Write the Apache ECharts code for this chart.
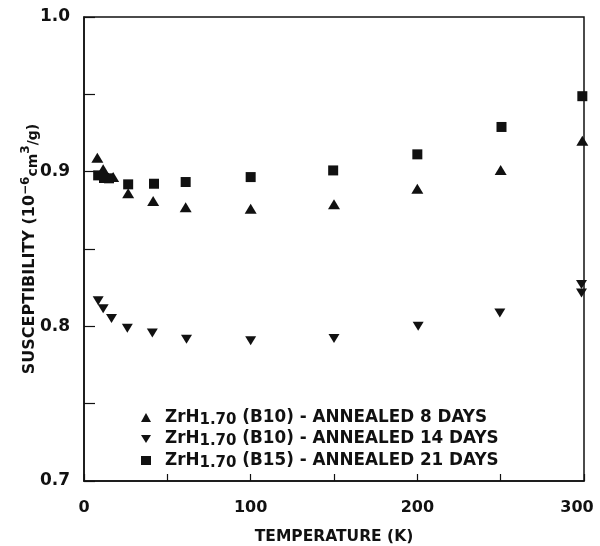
<!DOCTYPE html>
<html>
<head>
<meta charset="utf-8">
<script src="https://cdn.jsdelivr.net/npm/echarts@6/dist/echarts.min.js"></script>
<style>
  html, body { margin: 0; padding: 0; background: #fff; }
  #chart { width: 600px; height: 546px; }
</style>
</head>
<body>
<div id="chart"></div>
<script>
// Magnetic susceptibility of ZrH1.70 versus temperature, three anneal times
const seriesNames = [
  'ZrH1.70 (B10) - ANNEALED 8 DAYS',
  'ZrH1.70 (B10) - ANNEALED 14 DAYS',
  'ZrH1.70 (B15) - ANNEALED 21 DAYS'
];

// B10, annealed 8 days
const temp8 = [8, 11.5, 17.5, 26.5, 41.5, 61, 100, 150, 200, 250, 299];
const chi8  = [0.909, 0.9015, 0.8965, 0.886, 0.881, 0.877, 0.876, 0.879, 0.889, 0.901, 0.920];

// B10, annealed 14 days
const temp14 = [8.5, 11.5, 16.5, 26, 41, 61.5, 100, 150, 200.5, 249.5, 298.5, 298.5];
const chi14  = [0.8166, 0.8114, 0.805, 0.7988, 0.7957, 0.7916, 0.7907, 0.7922, 0.800, 0.8086, 0.827, 0.8216];

// B15, annealed 21 days
const temp21 = [8.5, 12, 15, 26.5, 42, 61, 100, 149.5, 200, 250.5, 299];
const chi21  = [0.8976, 0.8959, 0.8957, 0.8918, 0.8922, 0.8933, 0.8965, 0.9008, 0.9112, 0.9289, 0.9488];

// Labelled ticks
const xTickLabels = [0, 100, 200, 300];
const yTickLabels = [0.7, 0.8, 0.9, 1.0];

const FONT = 'DejaVu Sans';
const INK = '#111';

// Downward triangle used as the legend icon of the 14-day series
const DOWN_TRIANGLE = 'path://M0,0 L10,0 L5,8 Z';

function pairs(xs, ys) {
  return xs.map((x, i) => [x, ys[i]]);
}

const chart = echarts.init(document.getElementById('chart'), null, { renderer: 'canvas' });

chart.setOption({
  backgroundColor: '#fff',
  animation: false,
  grid: {
    left: 84, right: 16, top: 17, bottom: 65,
    outerBoundsMode: 'none', containLabel: false,
    show: true, borderColor: INK, borderWidth: 1.5, backgroundColor: 'transparent'
  },
  xAxis: {
    type: 'value', min: 0, max: 300, interval: 50,
    name: 'TEMPERATURE (K)', nameLocation: 'middle', nameGap: 48, nameMoveOverlap: false,
    nameTextStyle: { fontFamily: FONT, fontWeight: 'bold', fontSize: 15.5, color: INK },
    axisLine: { show: true, lineStyle: { color: INK, width: 1.5 } },
    axisTick: { show: true, inside: true, length: 7, lineStyle: { color: INK, width: 1.2 } },
    splitLine: { show: false },
    axisLabel: {
      margin: 19, fontFamily: FONT, fontWeight: 'bold', fontSize: 16, color: INK,
      // the last label sits a little inward from the right edge
      formatter: v => {
        if (!xTickLabels.includes(v)) return '';
        return v === xTickLabels[xTickLabels.length - 1] ? '{r|' + v + '}' : String(v);
      },
      rich: {
        r: { fontFamily: FONT, fontWeight: 'bold', fontSize: 16, color: INK, padding: [0, 14, 0, 0] }
      }
    }
  },
  yAxis: {
    type: 'value', min: 0.7, max: 1.0, interval: 0.05,
    name: '{a|SUSCEPTIBILITY (10}{p|−6}{c|cm}{p|3}{c|/g)}',
    nameLocation: 'middle', nameRotate: 90, nameGap: 44, nameMoveOverlap: false,
    nameTextStyle: {
      color: INK,
      rich: {
        a: { fontFamily: FONT, fontWeight: 'bold', fontSize: 16, lineHeight: 20, color: INK },
        p: { fontFamily: FONT, fontWeight: 'bold', fontSize: 12, lineHeight: 4, verticalAlign: 'top', color: INK },
        c: { fontFamily: FONT, fontWeight: 'bold', fontSize: 14, lineHeight: 18, verticalAlign: 'bottom', color: INK }
      }
    },
    axisLine: { show: true, lineStyle: { color: INK, width: 1.5 } },
    axisTick: { show: true, inside: true, length: 11, lineStyle: { color: INK, width: 1.2 } },
    splitLine: { show: false },
    axisLabel: {
      margin: 14, fontFamily: FONT, fontWeight: 'bold', fontSize: 17, color: INK,
      formatter: v => {
        const r = Math.round(v * 10) / 10;
        return (Math.abs(v - r) < 1e-6 && yTickLabels.some(t => Math.abs(t - r) < 1e-6)) ? r.toFixed(1) : '';
      }
    }
  },
  legend: {
    orient: 'vertical', left: 136, top: 404,
    itemWidth: 10, itemHeight: 9, itemGap: 3,
    data: [
      { name: seriesNames[0], icon: 'triangle' },
      { name: seriesNames[1], icon: DOWN_TRIANGLE },
      { name: seriesNames[2], icon: 'rect' }
    ],
    itemStyle: { opacity: 1 },
    formatter: name => name.replace(/^ZrH1\.70 (.*)$/, '{m|ZrH}{s|1.70}{m| $1}'),
    textStyle: {
      padding: [0, 0, 0, 9],
      rich: {
        m: { fontFamily: FONT, fontWeight: 'bold', fontSize: 16.8, lineHeight: 20, color: INK },
        s: { fontFamily: FONT, fontWeight: 'bold', fontSize: 15, lineHeight: 4, verticalAlign: 'bottom', color: INK }
      }
    }
  },
  series: [
    {
      name: seriesNames[0], type: 'scatter', symbol: 'triangle', symbolSize: [12, 10],
      itemStyle: { color: INK, opacity: 1 }, data: pairs(temp8, chi8)
    },
    {
      name: seriesNames[1], type: 'scatter', symbol: 'triangle', symbolRotate: 180, symbolSize: [11, 9],
      itemStyle: { color: INK, opacity: 1 }, data: pairs(temp14, chi14)
    },
    {
      name: seriesNames[2], type: 'scatter', symbol: 'rect', symbolSize: [10, 10],
      itemStyle: { color: INK, opacity: 1 }, data: pairs(temp21, chi21)
    }
  ]
});
</script>
</body>
</html>
